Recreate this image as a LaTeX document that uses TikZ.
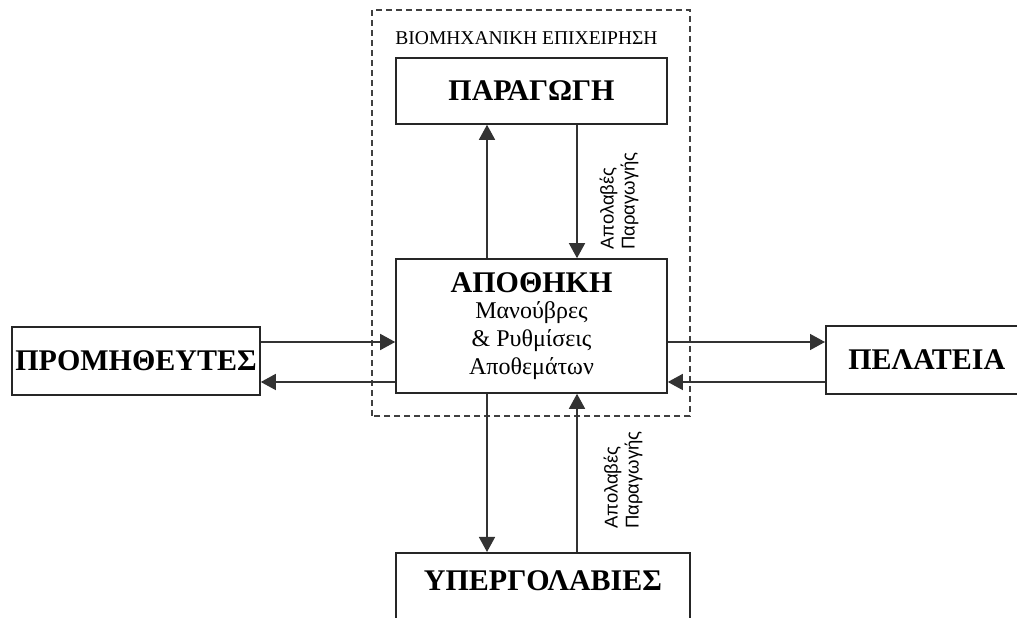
\documentclass[tikz,border=0pt]{standalone}
\usepackage{fontspec}
\setmainfont{Liberation Serif}
\newfontfamily\labelfont{Liberation Sans}
\usetikzlibrary{arrows.meta}

\tikzset{
  box/.style={draw=black!85, line width=1.6pt, rectangle, inner sep=0pt, fill=white},
  head/.style={font=\fontsize{30}{34}\selectfont\bfseries},
  arr/.style={draw=black!80, line width=1.5pt, -{Triangle[length=15pt,width=16pt]}},
  frame/.style={draw=black!75, line width=1.5pt, dash pattern=on 6pt off 4pt},
  flowlabel/.style={font=\labelfont\fontsize{18.5}{21}\selectfont, rotate=90, align=left, inner sep=0pt}
}

\begin{document}
\begin{tikzpicture}[x=1pt, y=1pt]
\useasboundingbox (0,0) rectangle (1017,618);
\clip (0,0) rectangle (1017,618);

% company boundary
\draw[frame] (372,202) rectangle (690,608);
\node[font=\fontsize{19.5}{22}\selectfont] (company) at (526.5,580) {ΒΙΟΜΗΧΑΝΙΚΗ ΕΠΙΧΕΙΡΗΣΗ};

% boxes
\node[box, head, minimum width=271pt, minimum height=66pt] (prod) at (531.5,527) {ΠΑΡΑΓΩΓΗ};
\node[box, minimum width=271pt, minimum height=134pt, align=center,
      font=\fontsize{24}{28}\selectfont] (store) at (531.5,292)
  {{\fontsize{30}{30}\selectfont\bfseries ΑΠΟΘΗΚΗ}\\[-2pt] Μανούβρες\\ \& Ρυθμίσεις\\ Αποθεμάτων};
\node[box, head, minimum width=248pt, minimum height=68pt] (sup) at (136,257) {ΠΡΟΜΗΘΕΥΤΕΣ};
\node[box, head, minimum width=202pt, minimum height=68pt, anchor=west] (cust) at (825,258) {ΠΕΛΑΤΕΙΑ};
\node[box, head, minimum width=294pt, inner ysep=0pt, text height=38pt, text depth=50pt,
      anchor=north] (sub) at (543,66) {ΥΠΕΡΓΟΛΑΒΙΕΣ};

% reference lines for the connectors
\coordinate (xl) at (487,0);
\coordinate (xr) at (577,0);
\coordinate (yu) at (0,276);
\coordinate (yd) at (0,236);

% production loop
\draw[arr] (store.north -| xl) -- (prod.south -| xl);
\draw[arr] (prod.south -| xr) -- (store.north -| xr);
% suppliers
\draw[arr] (sup.east |- yu) -- (store.west |- yu);
\draw[arr] (store.west |- yd) -- (sup.east |- yd);
% customers
\draw[arr] (store.east |- yu) -- (cust.west |- yu);
\draw[arr] (cust.west |- yd) -- (store.east |- yd);
% subcontractors
\draw[arr] (store.south -| xl) -- (sub.north -| xl);
\draw[arr] (sub.north -| xr) -- (store.south -| xr);

% flow labels
\node[flowlabel] (lbltop) at (619,417) {Απολαβές\\Παραγωγής};
\node[flowlabel] (lblbot) at (623,138) {Απολαβές\\Παραγωγής};
\end{tikzpicture}
\end{document}
